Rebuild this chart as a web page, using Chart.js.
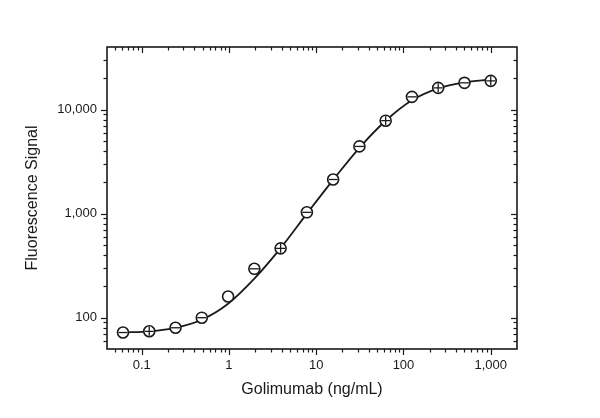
<!DOCTYPE html>
<html>
<head>
<meta charset="utf-8">
<script src="https://cdn.jsdelivr.net/npm/chart.js@4"></script>
<style>
  html, body { margin: 0; padding: 0; background: #fff; }
  #contenedor { width: 600px; height: 418px; }
</style>
</head>
<body>
<div id="contenedor"><canvas id="grafica"></canvas></div>
<script>
// 1) Datos leídos de la figura
// concentración de Golimumab (ng/mL), diluciones 1:2 desde 1000
const concentraciones = [0.061, 0.122, 0.244, 0.488, 0.977, 1.953, 3.906, 7.8125, 15.625, 31.25, 62.5, 125, 250, 500, 1000];
// señal medida (puntos)
const senal = [72, 74, 80, 100, 160, 295, 464, 1030, 2130, 4430, 7830, 13270, 16200, 18100, 18900];
// marca interior de cada punto (barra de error); false = sin marca
const marcaError = ["line", "cross", "line", "line", false, "line", "cross", "line", "line", "line", "cross", "line", "cross", "line", "cross"];
const ajusteY = [72, 74, 80, 95.5, 136, 237, 466, 1000, 2113, 4295, 7816, 12300, 16030, 18280, 19500];

// ticks de los ejes
const xMayores = [0.1, 1, 10, 100, 1000];
const xMenores = [0.05, 0.06, 0.07, 0.08, 0.09,
  0.2, 0.3, 0.4, 0.5, 0.6, 0.7, 0.8, 0.9,
  2, 3, 4, 5, 6, 7, 8, 9,
  20, 30, 40, 50, 60, 70, 80, 90,
  200, 300, 400, 500, 600, 700, 800, 900];
const yMayores = [100, 1000, 10000];
const yMenores = [60, 70, 80, 90,
  200, 300, 400, 500, 600, 700, 800, 900,
  2000, 3000, 4000, 5000, 6000, 7000, 8000, 9000,
  20000, 30000];

const fuente = "Arial, 'Liberation Sans', sans-serif";
const tinta = "#1a1a1a";

// 2) Plugin: marco y marcas de los cuatro lados
const marcoEjes = {
  id: "marcoEjes",
  afterDraw(chart) {
    const { ctx, chartArea: a, scales: { x, y } } = chart;
    ctx.save();
    ctx.strokeStyle = tinta;
    const marca = (x1, y1, x2, y2) => {
      ctx.beginPath();
      ctx.moveTo(x1, y1);
      ctx.lineTo(x2, y2);
      ctx.stroke();
    };
    ctx.lineWidth = 1.2;
    const ticksX = (vals, largo) => vals.forEach((v) => {
      const px = Math.round(x.getPixelForValue(v)) + 0.5;
      marca(px, a.bottom, px, a.bottom + largo); // abajo hacia fuera
      marca(px, a.top, px, a.top + largo);       // arriba hacia dentro
    });
    const ticksY = (vals, largo) => vals.forEach((v) => {
      const py = Math.round(y.getPixelForValue(v)) + 0.5;
      marca(a.left, py, a.left - largo, py);     // izquierda hacia fuera
      marca(a.right, py, a.right - largo, py);   // derecha hacia dentro
    });
    ticksX(xMayores, 6);
    ticksX(xMenores, 3.5);
    ticksY(yMayores, 6);
    ticksY(yMenores, 3.5);
    ctx.lineWidth = 1.6;
    ctx.strokeRect(a.left, a.top, a.right - a.left, a.bottom - a.top);
    ctx.restore();
  },
};

const puntos = concentraciones.map((c, i) => ({ x: c, y: senal[i] }));
const curva = concentraciones.map((c, i) => ({ x: c, y: ajusteY[i] }));

const ctx = document.getElementById("grafica").getContext("2d");
new Chart(ctx, {
  type: "scatter",
  data: {
    datasets: [
      {
        // barras de error dentro del círculo
        data: puntos,
        pointStyle: marcaError,
        pointRadius: 4.5,
        pointBorderColor: tinta,
        pointBackgroundColor: "rgba(0,0,0,0)",
        pointBorderWidth: 1.3,
        order: 0,
      },
      {
        data: puntos,
        pointStyle: "circle",
        pointRadius: 5.5,
        pointBorderColor: tinta,
        pointBackgroundColor: "#fff",
        pointBorderWidth: 1.6,
        order: 1,
      },
      {
        type: "line",
        data: curva,
        borderColor: tinta,
        borderWidth: 1.8,
        pointRadius: 0,
        fill: false,
        cubicInterpolationMode: "monotone",
        order: 2,
      },
    ],
  },
  options: {
    responsive: true,
    maintainAspectRatio: false,
    animation: false,
    layout: { padding: { top: 47, right: 83, left: 0, bottom: 0 } },
    plugins: { legend: { display: false }, tooltip: { enabled: false } },
    scales: {
      x: {
        type: "logarithmic",
        min: 0.04,
        max: 2000,
        grid: { display: false, drawTicks: false },
        border: { display: false },
        afterBuildTicks: (s) => { s.ticks = xMayores.map((v) => ({ value: v })); },
        afterFit: (s) => { s.height = 69; },
        ticks: {
          autoSkip: false,
          maxRotation: 0,
          padding: 9,
          color: tinta,
          font: { family: fuente, size: 13 },
          callback: (v) => Number(v).toLocaleString("en-US"),
        },
        title: {
          display: true,
          text: "Golimumab (ng/mL)",
          color: tinta,
          font: { family: fuente, size: 16 },
          padding: { top: 0, bottom: 19 },
        },
      },
      y: {
        type: "logarithmic",
        min: 50,
        max: 40000,
        grid: { display: false, drawTicks: false },
        border: { display: false },
        afterBuildTicks: (s) => { s.ticks = yMayores.map((v) => ({ value: v })); },
        afterFit: (s) => { s.width = 107; },
        ticks: {
          autoSkip: false,
          padding: 10,
          color: tinta,
          font: { family: fuente, size: 13 },
          callback: (v) => Number(v).toLocaleString("en-US"),
        },
        title: {
          display: true,
          text: "Fluorescence Signal",
          color: tinta,
          font: { family: fuente, size: 16 },
          padding: { top: 23, bottom: 0 },
        },
      },
    },
  },
  plugins: [marcoEjes],
});
</script>
</body>
</html>
